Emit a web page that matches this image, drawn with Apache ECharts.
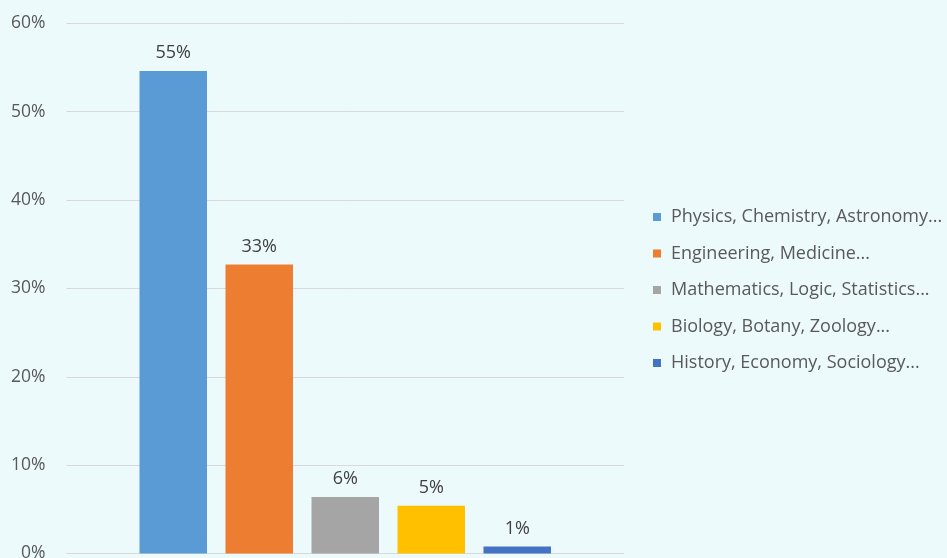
<!DOCTYPE html>
<html>
<head>
<meta charset="utf-8">
<script src="https://cdn.jsdelivr.net/npm/echarts@6/dist/echarts.min.js"></script>
<style>
  html, body { margin: 0; padding: 0; background: #ECFAFB; }
  #chart { width: 947px; height: 558px; }
</style>
</head>
<body>
<div id="chart"></div>
<script>
// Share of works by field (percent)
const fields = [
  'Physics, Chemistry, Astronomy...',
  'Engineering, Medicine...',
  'Mathematics, Logic, Statistics...',
  'Biology, Botany, Zoology...',
  'History, Economy, Sociology...'
];
const shares = [54.6, 32.7, 6.4, 5.4, 0.8];
const fieldColors = ['#5B9BD5', '#ED7D31', '#A5A5A5', '#FFC000', '#4472C4'];
const yTicks = [0, 10, 20, 30, 40, 50, 60];

const fontFamily = '"Open Sans", "Noto Sans", sans-serif';

const series = fields.map((name, i) => ({
  name: name,
  type: 'bar',
  data: [shares[i]],
  barWidth: 67.5,
  barGap: '27.4%',
  itemStyle: { color: fieldColors[i] },
  label: {
    show: true,
    position: 'top',
    distance: 9,
    color: '#404040',
    fontSize: 18,
    fontFamily: fontFamily,
    formatter: p => Math.round(p.value) + '%'
  }
}));

const chart = echarts.init(document.getElementById('chart'));
chart.setOption({
  backgroundColor: '#ECFAFB',
  animation: false,
  grid: {
    left: 66.5, right: 323, top: 23.3, bottom: 4.5,
    containLabel: false,
    outerBoundsMode: 'none'
  },
  xAxis: {
    type: 'category',
    data: [''],
    axisLine: { show: false },
    axisTick: { show: false },
    axisLabel: { show: false }
  },
  yAxis: {
    type: 'value',
    min: yTicks[0],
    max: yTicks[yTicks.length - 1],
    interval: 10,
    axisLine: { show: false },
    axisTick: { show: false },
    axisLabel: {
      margin: 21,
      color: '#595959',
      fontSize: 17.5,
      fontFamily: fontFamily,
      formatter: v => v + '%'
    },
    splitLine: { lineStyle: { color: '#D9D9D9', width: 1 } }
  },
  legend: {
    orient: 'vertical',
    left: 648,
    top: 202,
    icon: 'rect',
    itemWidth: 8,
    itemHeight: 8,
    itemGap: 16.5,
    data: fields,
    textStyle: {
      color: '#595959',
      fontSize: 18,
      fontFamily: fontFamily,
      lineHeight: 20,
      padding: [0, 0, 0, 5]
    }
  },
  series: series
});
</script>
</body>
</html>
